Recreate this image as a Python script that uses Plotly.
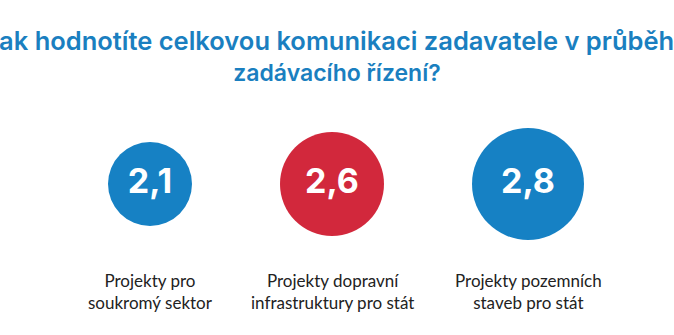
import plotly.graph_objects as go

categories = ["Projekty pro<br>soukromý sektor",
              "Projekty dopravní<br>infrastruktury pro stát",
              "Projekty pozemních<br>staveb pro stát"]
values = [2.1, 2.6, 2.8]
value_labels = ["2,1", "2,6", "2,8"]
colors = ["#1681c4", "#d2283c", "#1681c4"]
title_line1 = "Jak hodnotíte celkovou komunikaci zadavatele v průběhu"
title_line2 = "zadávacího řízení?"

PX_PER_UNIT = 40.0   # circle diameter in px per unit of value
GAP = 2.2            # gap between circles in value units

# centers derived from values (circles laid side by side with equal gaps)
centers = []
pos = 0.0
for v in values:
    centers.append(pos + v / 2)
    pos += v + GAP

W, H = 674, 335
x0 = centers[0] - 150 / PX_PER_UNIT
x1 = x0 + W / PX_PER_UNIT

fig = go.Figure()
fig.add_trace(go.Scatter(
    x=centers, y=[0] * len(values),
    mode="markers+text",
    marker=dict(size=[v * PX_PER_UNIT for v in values], sizemode="diameter",
                color=colors, line=dict(width=0), opacity=1),
    text=value_labels,
    textposition="middle center",
    textfont=dict(family="Inter", size=34, color="white", weight=700),
    hoverinfo="skip", showlegend=False,
))

for c, lab in zip(centers, categories):
    fig.add_annotation(x=c, xref="x", y=1 - 268 / H, yref="paper",
                       text=lab, showarrow=False, yanchor="top", xanchor="center",
                       font=dict(family="Lato", size=17, color="#222222"),
                       align="center")

title_text = ('<span style="font-size:25.5px">' + title_line1 + '</span><br>'
              '<span style="font-size:23px">' + title_line2 + '</span>')

fig.update_layout(
    width=W, height=H,
    margin=dict(l=0, r=0, t=0, b=0),
    paper_bgcolor="white", plot_bgcolor="white",
    title=dict(text=title_text, x=0.5, xanchor="center", y=1 - 50 / H, yanchor="top",
               yref="container",
               font=dict(family="Inter", size=24, color="#1a7fc0", weight=600)),
    xaxis=dict(range=[x0, x1], visible=False, fixedrange=True),
    yaxis=dict(range=[-(H - 184), 184], visible=False, fixedrange=True),
)

fig.write_html("out.html")
